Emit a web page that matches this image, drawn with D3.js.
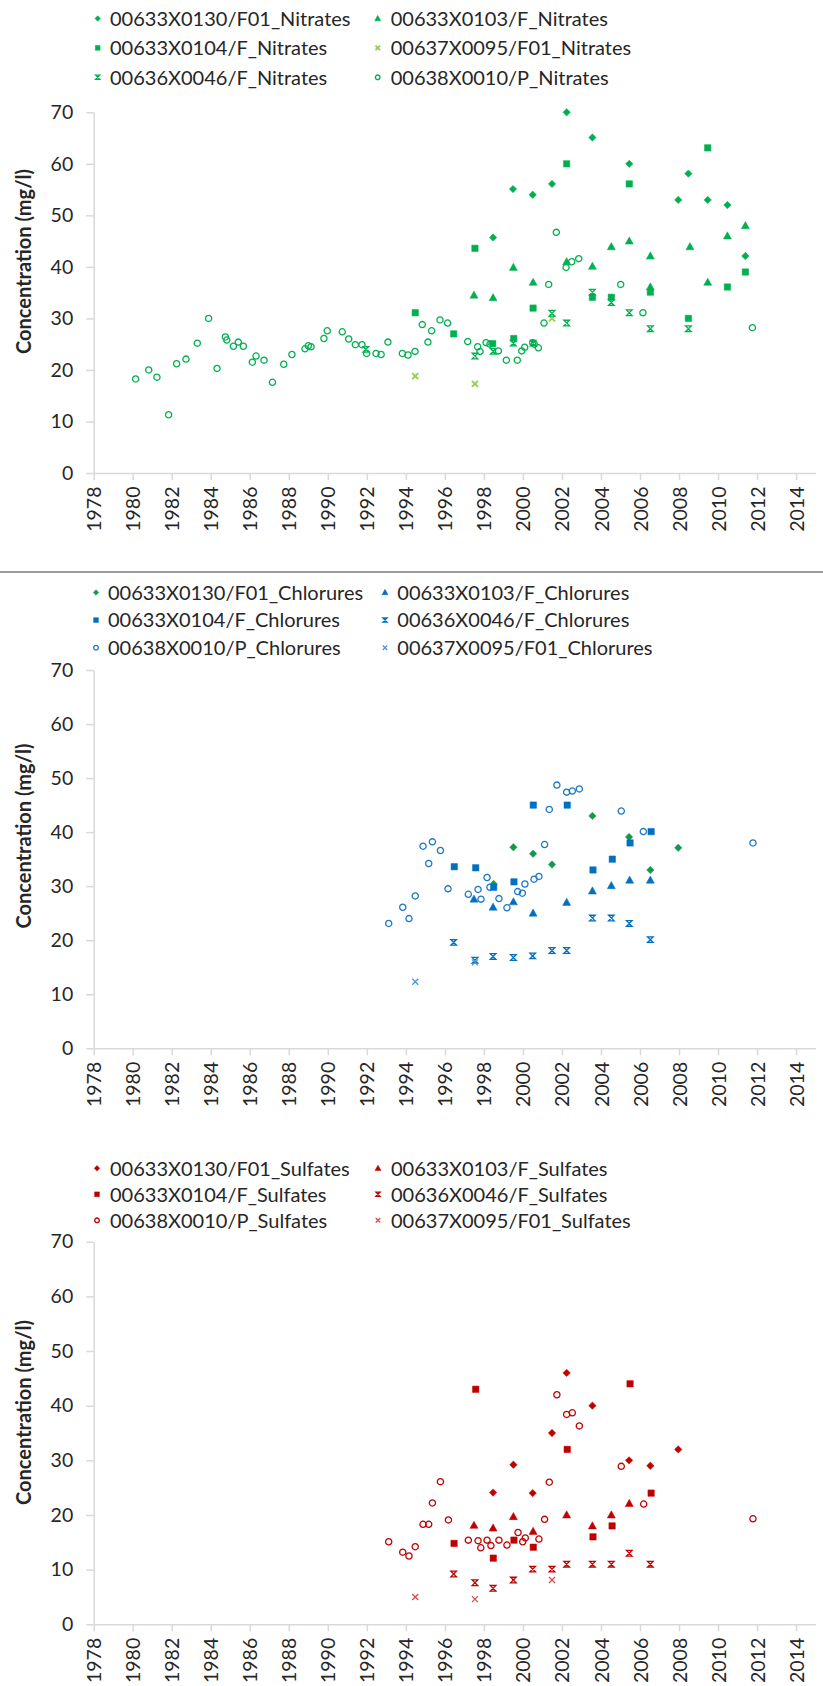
<!DOCTYPE html>
<html>
<head>
<meta charset="utf-8">
<script src="https://cdn.jsdelivr.net/npm/d3@7"></script>
<style>
  body { margin: 0; background: #fff; }
  svg text { font-family: Lato, "Open Sans", sans-serif; fill: #262626; }
</style>
</head>
<body>
<div id="chart"></div>
<script>
// axis ticks
const yearTicks = d3.range(1978, 2015, 2);
const concTicks = [0, 10, 20, 30, 40, 50, 60, 70];

// ---- Nitrates (year, mg/l)
const no3_0130 = [[1998.47, 45.7], [1999.49, 55.1], [2000.5, 54.0], [2001.49, 56.1], [2002.24, 70.0], [2003.56, 65.1],
  [2005.45, 60.0], [2007.96, 53.0], [2008.48, 58.1], [2009.47, 53.0], [2010.48, 52.0], [2011.4, 42.1]];
const no3_0103 = [[1997.49, 34.5], [1998.47, 34.0], [1999.51, 39.9], [2000.52, 37.0], [2002.24, 41.0], [2003.56, 40.1],
  [2004.53, 43.9], [2005.45, 45.0], [2006.53, 42.1], [2006.53, 36.1], [2008.56, 43.9], [2009.47, 37.0], [2010.48, 46.0], [2011.4, 48.0]];
const no3_0104 = [[1994.48, 31.1], [1996.45, 27.0], [1997.54, 43.6], [1998.45, 25.1], [1999.53, 26.1], [2000.52, 32.0],
  [2002.24, 60.0], [2003.56, 34.1], [2004.53, 34.1], [2005.45, 56.1], [2006.53, 35.1], [2008.48, 30.0], [2009.47, 63.1],
  [2010.48, 36.1], [2011.4, 39.0]];
const no3_0095 = [[1994.48, 18.8], [1997.54, 17.3], [2001.49, 30.0]];
const no3_0046 = [[1991.95, 24.0], [1997.54, 22.7], [1998.48, 23.6], [1999.51, 25.2], [2000.52, 25.2], [2001.49, 31.0],
  [2002.24, 29.1], [2003.56, 35.1], [2004.53, 33.1], [2005.45, 31.1], [2006.53, 28.0], [2008.48, 28.0]];
const no3_0010 = [[1980.15, 18.25], [1980.82, 20.0], [1981.24, 18.6], [1981.84, 11.3], [1982.25, 21.2], [1982.73, 22.1],
  [1983.31, 25.2], [1983.89, 30.0], [1984.32, 20.3], [1984.75, 26.4], [1984.82, 25.8], [1985.16, 24.6], [1985.41, 25.4],
  [1985.67, 24.6], [1986.13, 21.5], [1986.32, 22.7], [1986.73, 21.9], [1987.16, 17.6], [1987.74, 21.1], [1988.16, 23.0],
  [1988.83, 24.1], [1989.0, 24.7], [1989.14, 24.5], [1989.8, 26.1], [1989.97, 27.6], [1990.74, 27.4], [1991.07, 26.0],
  [1991.41, 24.9], [1991.75, 24.9], [1991.99, 23.2], [1992.47, 23.2], [1992.73, 23.0], [1993.08, 25.4], [1993.82, 23.2],
  [1994.11, 22.9], [1994.47, 23.6], [1994.84, 28.8], [1995.13, 25.4], [1995.32, 27.6], [1995.75, 29.7], [1996.14, 29.1],
  [1997.17, 25.5], [1997.68, 24.5], [1997.8, 23.6], [1998.11, 25.3], [1998.31, 25.0], [1998.74, 23.7], [1999.15, 21.9],
  [1999.71, 21.9], [1999.94, 23.7], [2000.09, 24.4], [2000.5, 25.3], [2000.58, 25.0], [2000.79, 24.3], [2001.08, 29.1],
  [2001.32, 36.6], [2001.71, 46.7], [2002.21, 39.9], [2002.5, 41.0], [2002.86, 41.6], [2005.01, 36.6], [2006.15, 31.1],
  [2011.76, 28.2]];

// ---- Chlorures
const cl_0130 = [[1998.5, 30.4], [1999.51, 37.2], [2000.52, 36.0], [2001.49, 34.0], [2003.56, 43.0], [2005.44, 39.1],
  [2006.53, 33.0], [2007.96, 37.1]];
const cl_0103 = [[1997.49, 27.6], [1998.47, 26.1], [1999.51, 27.1], [2000.52, 25.0], [2002.24, 27.0], [2003.56, 29.1],
  [2004.53, 30.1], [2005.47, 31.1], [2006.53, 31.1]];
const cl_0104 = [[1996.48, 33.6], [1997.58, 33.4], [1998.5, 29.8], [1999.54, 30.8], [2000.53, 45.0], [2002.27, 45.0],
  [2003.59, 33.0], [2004.58, 35.0], [2005.49, 38.0], [2006.57, 40.1]];
const cl_0046 = [[1996.45, 19.6], [1997.54, 16.3], [1998.47, 17.0], [1999.51, 16.8], [2000.5, 17.1], [2001.49, 18.1],
  [2002.24, 18.1], [2003.56, 24.1], [2004.53, 24.1], [2005.45, 23.1], [2006.53, 20.1]];
const cl_0010 = [[1993.12, 23.1], [1993.84, 26.1], [1994.16, 24.0], [1994.48, 28.2], [1994.88, 37.4], [1995.17, 34.2],
  [1995.36, 38.2], [1995.77, 36.6], [1996.16, 29.5], [1997.2, 28.5], [1997.7, 29.4], [1997.85, 27.6], [1998.16, 31.6],
  [1998.31, 29.8], [1998.77, 27.7], [1999.18, 26.0], [1999.73, 29.0], [1999.97, 28.7], [2000.1, 30.4], [2000.57, 31.3],
  [2000.82, 31.8], [2001.11, 37.7], [2001.35, 44.2], [2001.74, 48.7], [2002.24, 47.4], [2002.53, 47.6], [2002.89, 48.0],
  [2005.04, 43.9], [2006.17, 40.1], [2011.79, 38.0]];
const cl_0095 = [[1994.48, 12.3], [1997.54, 15.9]];

// ---- Sulfates
const so4_0130 = [[1998.47, 24.1], [1999.51, 29.2], [2000.5, 24.0], [2001.49, 35.0], [2002.24, 46.0], [2003.56, 40.0],
  [2005.44, 30.0], [2006.53, 29.0], [2007.96, 32.0]];
const so4_0103 = [[1997.49, 18.1], [1998.47, 17.6], [1999.51, 19.7], [2000.52, 17.0], [2002.24, 20.0], [2003.56, 18.0],
  [2004.53, 20.0], [2005.45, 22.1]];
const so4_0104 = [[1996.47, 14.8], [1997.58, 43.0], [1998.48, 12.1], [1999.54, 15.4], [2000.53, 14.1], [2002.27, 32.0],
  [2003.59, 16.0], [2004.57, 18.0], [2005.49, 44.0], [2006.57, 24.0]];
const so4_0046 = [[1996.45, 9.2], [1997.54, 7.6], [1998.47, 6.6], [1999.51, 8.1], [2000.5, 10.1], [2001.49, 10.1],
  [2002.24, 11.0], [2003.56, 11.0], [2004.53, 11.0], [2005.45, 13.0], [2006.53, 11.0]];
const so4_0010 = [[1993.12, 15.1], [1993.84, 13.2], [1994.16, 12.5], [1994.48, 14.2], [1994.88, 18.3], [1995.17, 18.3],
  [1995.36, 22.2], [1995.77, 26.1], [1996.18, 19.1], [1997.2, 15.4], [1997.7, 15.3], [1997.84, 14.0], [1998.16, 15.4],
  [1998.36, 14.4], [1998.77, 15.4], [1999.18, 14.5], [1999.75, 16.8], [1999.99, 15.1], [2000.12, 15.8], [2000.82, 15.6],
  [2001.11, 19.2], [2001.35, 26.0], [2001.74, 42.0], [2002.24, 38.4], [2002.53, 38.7], [2002.89, 36.3], [2005.04, 28.9],
  [2006.19, 22.0], [2011.79, 19.3]];
const so4_0095 = [[1994.48, 5.0], [1997.54, 4.6], [2001.49, 8.1]];

const panels = [
  {
    top: 112.3, bottom: 473, legendY: 18.5, legendStep: 29.4, cols: [[97.7, 110], [377.7, 390.7]], titleY: 261.5,
    series: [
      { name: '00633X0130/F01_Nitrates', data: no3_0130, shape: 'diamond', color: '#00b050' },
      { name: '00633X0103/F_Nitrates', data: no3_0103, shape: 'triangle', color: '#00b050' },
      { name: '00633X0104/F_Nitrates', data: no3_0104, shape: 'square', color: '#00b050' },
      { name: '00637X0095/F01_Nitrates', data: no3_0095, shape: 'cross', color: '#92d050' },
      { name: '00636X0046/F_Nitrates', data: no3_0046, shape: 'star', color: '#00b050' },
      { name: '00638X0010/P_Nitrates', data: no3_0010, shape: 'circle', color: '#00b050' },
    ],
  },
  {
    top: 670, bottom: 1048.3, legendY: 592.5, legendStep: 27.6, cols: [[96, 108], [385, 397.3]], titleY: 836,
    series: [
      { name: '00633X0130/F01_Chlorures', data: cl_0130, shape: 'diamond', color: '#119a4c' },
      { name: '00633X0103/F_Chlorures', data: cl_0103, shape: 'triangle', color: '#0070c0' },
      { name: '00633X0104/F_Chlorures', data: cl_0104, shape: 'square', color: '#0070c0' },
      { name: '00636X0046/F_Chlorures', data: cl_0046, shape: 'star', color: '#0070c0' },
      { name: '00638X0010/P_Chlorures', data: cl_0010, shape: 'circle', color: '#1a78c8' },
      { name: '00637X0095/F01_Chlorures', data: cl_0095, shape: 'cross', color: '#4a95d8' },
    ],
  },
  {
    top: 1241.7, bottom: 1624.3, legendY: 1168.3, legendStep: 26, cols: [[97, 110], [378, 391]], titleY: 1412.5,
    series: [
      { name: '00633X0130/F01_Sulfates', data: so4_0130, shape: 'diamond', color: '#c00000' },
      { name: '00633X0103/F_Sulfates', data: so4_0103, shape: 'triangle', color: '#c00000' },
      { name: '00633X0104/F_Sulfates', data: so4_0104, shape: 'square', color: '#c00000' },
      { name: '00636X0046/F_Sulfates', data: so4_0046, shape: 'star', color: '#c00000' },
      { name: '00638X0010/P_Sulfates', data: so4_0010, shape: 'circle', color: '#c00000' },
      { name: '00637X0095/F01_Sulfates', data: so4_0095, shape: 'cross', color: '#d84a4a' },
    ],
  },
];

const W = 823;
const H = 1686;
const plotLeft = 93.7;
const plotRight = 815.6;

const svg = d3.select('#chart').append('svg').attr('width', W).attr('height', H);

const shapePath = (shape, s) => {
  switch (shape) {
    case 'diamond': return `M0,${-s}L${s},0L0,${s}L${-s},0Z`;
    case 'square': return `M${-s},${-s}h${2 * s}v${2 * s}h${-2 * s}Z`;
    case 'triangle': return `M0,${-s * 1.05}L${s},${s * 0.75}L${-s},${s * 0.75}Z`;
    case 'star': return `M${-s},${-s}L${s},${-s}L${-s},${s}L${s},${s}Z`;
    case 'cross': return `M${-s},${-s}L${s},${s}M${s},${-s}L${-s},${s}`;
    default: return '';
  }
};
const markerSize = { diamond: 3.7, square: 3.2, triangle: 4, star: 2.8, cross: 3 };

const drawMarker = (sel, d, scale) => {
  if (d.shape === 'circle') {
    sel.append('circle').attr('r', 3.1 * scale)
      .attr('fill', 'none').attr('stroke', d.color).attr('stroke-width', 1.3);
    return;
  }
  const filled = ['diamond', 'square', 'triangle'].includes(d.shape);
  sel.append('path').attr('d', shapePath(d.shape, markerSize[d.shape] * scale))
    .attr('fill', filled ? d.color : 'none')
    .attr('stroke', d.color)
    .attr('stroke-width', filled ? 0.5 : (d.shape === 'cross' && d.color === '#92d050' ? 2 : 1.3));
};

// separator between the first two charts
svg.append('line').attr('x1', 0).attr('x2', W).attr('y1', 572).attr('y2', 572)
  .attr('stroke', '#7a7a7a').attr('stroke-width', 1.4);

panels.forEach((p) => {
  const x = d3.scaleLinear().domain([1978, 2015]).range([plotLeft, plotRight]);
  const y = d3.scaleLinear().domain([0, 70]).range([p.bottom, p.top]);
  const g = svg.append('g');

  const yAxis = g.append('g').attr('transform', `translate(${plotLeft},0)`)
    .call(d3.axisLeft(y).tickValues(concTicks).tickSize(7.5).tickSizeOuter(0).tickPadding(13));
  yAxis.selectAll('text').attr('font-size', 19.5).attr('fill', '#262626');

  const xAxis = g.append('g').attr('transform', `translate(0,${p.bottom})`)
    .call(d3.axisBottom(x).tickValues(yearTicks).tickSize(7).tickSizeOuter(0).tickFormat(d3.format('d')));
  xAxis.selectAll('text')
    .attr('font-size', 19.5).attr('fill', '#262626')
    .attr('transform', 'rotate(-90)')
    .attr('text-anchor', 'end')
    .attr('x', -13.5).attr('y', 0).attr('dy', '0.36em');

  [yAxis, xAxis].forEach((a) => {
    a.select('.domain').attr('stroke', '#d9d9d9').attr('stroke-width', 1.5);
    a.selectAll('.tick line').attr('stroke', '#d9d9d9').attr('stroke-width', 1.5);
  });

  g.append('text')
    .attr('transform', `translate(24,${p.titleY}) rotate(-90)`)
    .attr('text-anchor', 'middle').attr('dy', '0.36em')
    .attr('font-size', 20).attr('font-weight', 700)
    .text('Concentration (mg/l)');

  // points, circles underneath
  const order = [...p.series].sort((a, b) => (a.shape === 'circle' ? -1 : 0) - (b.shape === 'circle' ? -1 : 0));
  order.forEach((s) => {
    g.append('g').selectAll('g')
      .data(s.data)
      .enter()
      .append('g')
      .attr('transform', (d) => `translate(${x(d[0])},${y(d[1])})`)
      .each(function drawPoint() { drawMarker(d3.select(this), s, 1); });
  });

  // legend: two columns, three rows
  p.series.forEach((s, i) => {
    const col = p.cols[i % 2];
    const rowY = p.legendY + Math.floor(i / 2) * p.legendStep;
    const item = g.append('g');
    drawMarker(item.append('g').attr('transform', `translate(${col[0]},${rowY})`), s, 0.75);
    item.append('text').attr('x', col[1]).attr('y', rowY).attr('dy', '0.36em')
      .attr('font-size', 20).attr('fill', '#1a1a1a')
      .text(s.name);
  });
});
</script>
</body>
</html>
